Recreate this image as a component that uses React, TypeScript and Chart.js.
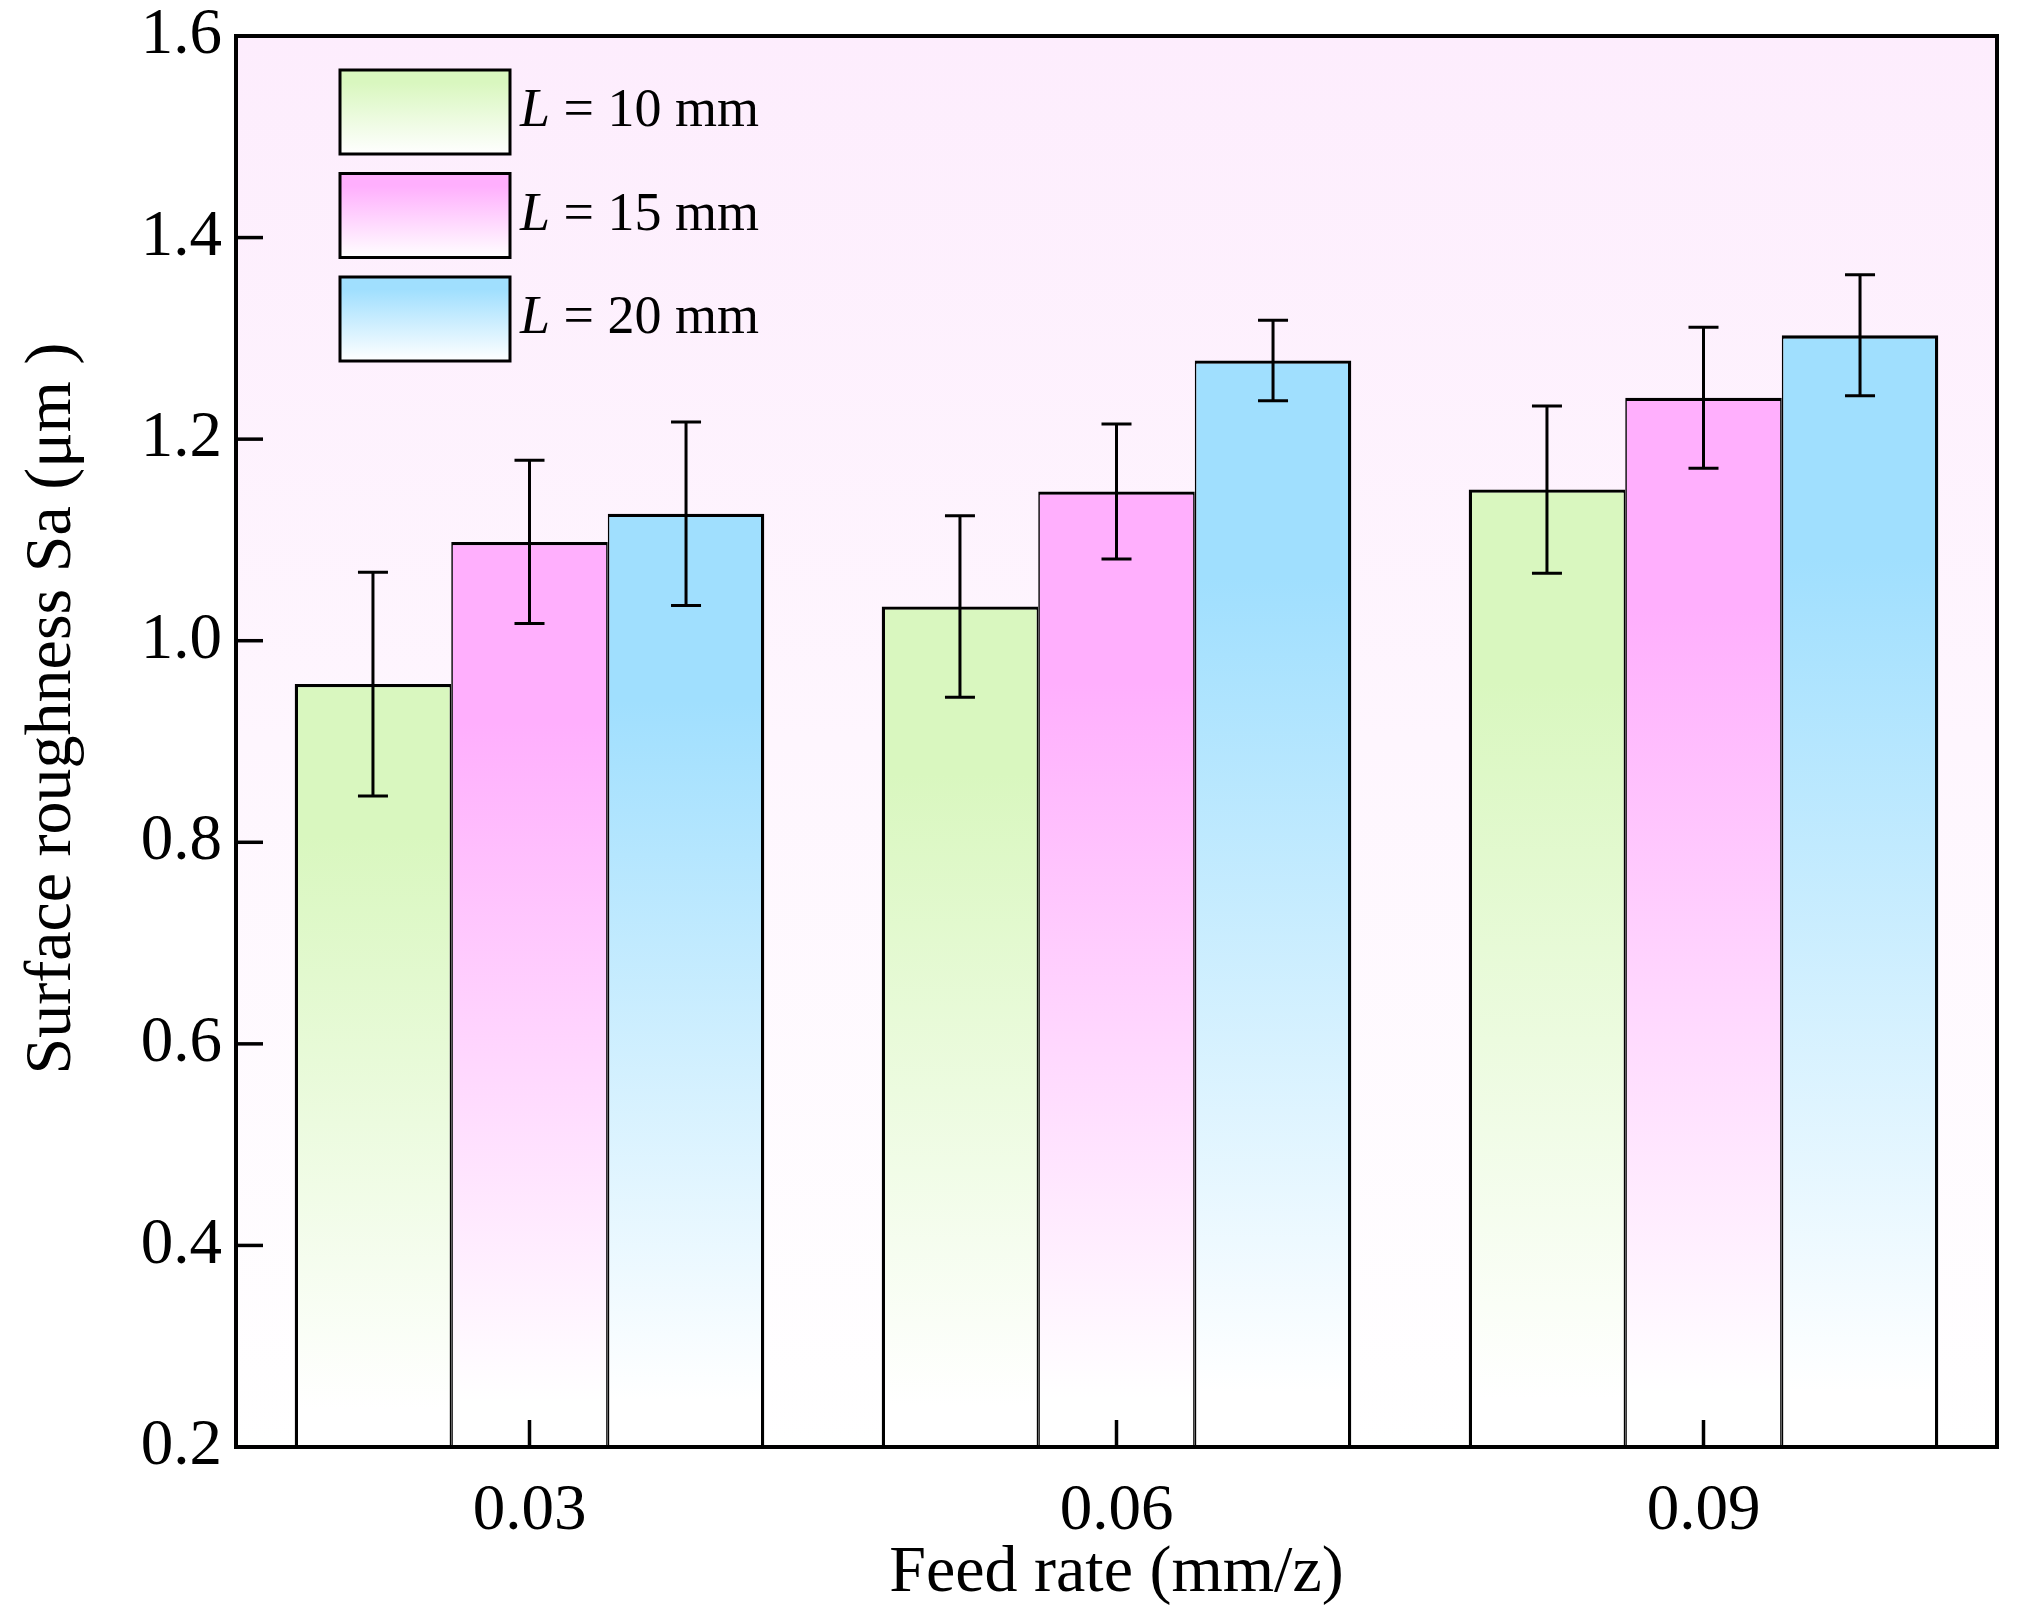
import { useEffect, useRef } from "react";
import { Chart, registerables } from "chart.js";

Chart.register(...registerables);

// feed rates on the x axis
const feedRates = ["0.03", "0.06", "0.09"];
// cutting lengths (legend)
const lengths = ["10", "15", "20"];
// mean Sa per length (µm)
const sa10 = [0.957, 1.034, 1.15];
const sa15 = [1.098, 1.148, 1.241];
const sa20 = [1.126, 1.278, 1.303];
// error bar half-widths
const err10 = [0.111, 0.09, 0.083];
const err15 = [0.081, 0.067, 0.07];
const err20 = [0.091, 0.04, 0.06];

const colors = ["#d9f7bf", "#ffaffd", "#a0dffe"];
const FONT = "'Liberation Serif', 'Times New Roman', serif";

const values = [sa10, sa15, sa20];
const errors = [err10, err15, err20];

const barFill = (color: string) => (ctx: any) => {
  const chart = ctx.chart;
  const area = chart.chartArea;
  if (!area || ctx.type !== "data") return color;
  const top = chart.scales.y.getPixelForValue(ctx.raw);
  const g = chart.ctx.createLinearGradient(0, top, 0, area.bottom);
  g.addColorStop(0, color);
  g.addColorStop(0.2, color);
  g.addColorStop(0.95, "#ffffff");
  return g;
};

const decorPlugin = {
  id: "decor",
  beforeDraw(chart: any) {
    const { ctx, chartArea: a } = chart;
    const g = ctx.createLinearGradient(0, a.top, 0, a.bottom);
    g.addColorStop(0, "#fdedfd");
    g.addColorStop(1, "#ffffff");
    ctx.save();
    ctx.fillStyle = g;
    ctx.fillRect(a.left, a.top, a.right - a.left, a.bottom - a.top);
    ctx.restore();
  },
  afterDatasetsDraw(chart: any) {
    const { ctx } = chart;
    const y = chart.scales.y;
    ctx.save();
    ctx.strokeStyle = "#000";
    ctx.lineWidth = 3;
    values.forEach((vals, i) => {
      const meta = chart.getDatasetMeta(i);
      vals.forEach((v, j) => {
        const x = meta.data[j].x;
        const hi = y.getPixelForValue(v + errors[i][j]);
        const lo = y.getPixelForValue(v - errors[i][j]);
        ctx.beginPath();
        ctx.moveTo(x, hi);
        ctx.lineTo(x, lo);
        ctx.moveTo(x - 15, hi);
        ctx.lineTo(x + 15, hi);
        ctx.moveTo(x - 15, lo);
        ctx.lineTo(x + 15, lo);
        ctx.stroke();
      });
    });
    ctx.restore();
  },
  afterDraw(chart: any) {
    const { ctx, chartArea: a } = chart;
    ctx.save();
    ctx.strokeStyle = "#000";
    // inward ticks
    ctx.lineWidth = 3.5;
    chart.scales.y.ticks.forEach((t: any) => {
      const py = chart.scales.y.getPixelForValue(t.value);
      ctx.beginPath();
      ctx.moveTo(a.left, py);
      ctx.lineTo(a.left + 27, py);
      ctx.stroke();
    });
    feedRates.forEach((_, i) => {
      const px = chart.scales.x.getPixelForValue(i);
      ctx.beginPath();
      ctx.moveTo(px, a.bottom);
      ctx.lineTo(px, a.bottom - 27);
      ctx.stroke();
    });
    // frame
    ctx.lineWidth = 4;
    ctx.strokeRect(a.left, a.top, a.right - a.left, a.bottom - a.top);

    // legend
    const bx = a.left + 104;
    const bw = 170;
    const bh = 84;
    lengths.forEach((len, i) => {
      const by = a.top + 34 + i * 103.5;
      const g = ctx.createLinearGradient(0, by, 0, by + bh);
      g.addColorStop(0, colors[i]);
      g.addColorStop(0.15, colors[i]);
      g.addColorStop(1, "#ffffff");
      ctx.fillStyle = g;
      ctx.fillRect(bx, by, bw, bh);
      ctx.lineWidth = 3;
      ctx.strokeRect(bx, by, bw, bh);
      ctx.fillStyle = "#000";
      ctx.textBaseline = "middle";
      ctx.textAlign = "left";
      const ty = by + bh / 2;
      ctx.font = `italic 54px ${FONT}`;
      ctx.fillText("L", bx + bw + 10, ty);
      const lw = ctx.measureText("L").width;
      ctx.font = `54px ${FONT}`;
      ctx.fillText(` = ${len} mm`, bx + bw + 10 + lw, ty);
    });

    // y axis title
    ctx.translate(53, (a.top + a.bottom) / 2 - 33);
    ctx.rotate(-Math.PI / 2);
    ctx.font = `66px ${FONT}`;
    ctx.textAlign = "center";
    ctx.textBaseline = "middle";
    ctx.fillStyle = "#000";
    ctx.fillText("Surface roughness Sa (\u03bcm )", 0, 0);
    ctx.restore();
  },
};

export default function App() {
  const canvasRef = useRef<HTMLCanvasElement>(null);

  useEffect(() => {
    if (!canvasRef.current) return;
    const chart = new Chart(canvasRef.current, {
      type: "bar",
      data: {
        labels: feedRates,
        datasets: values.map((vals, i) => ({
          label: `L = ${lengths[i]} mm`,
          data: vals,
          backgroundColor: barFill(colors[i]),
          borderColor: "#000",
          borderWidth: {
            top: 3.3,
            bottom: 0,
            left: i === 0 ? 3.3 : 1.65,
            right: i === 2 ? 3.3 : 1.65,
          },
          borderSkipped: false,
          barPercentage: 1,
          categoryPercentage: 0.8,
        })),
      },
      options: {
        animation: false,
        responsive: true,
        maintainAspectRatio: false,
        layout: { padding: { top: 36, right: 25, bottom: 0, left: 0 } },
        plugins: { legend: { display: false }, tooltip: { enabled: false } },
        scales: {
          x: {
            grid: { display: false },
            border: { display: false },
            ticks: { font: { family: FONT, size: 65 }, color: "#000", padding: 18 },
            title: {
              display: true,
              text: "Feed rate (mm/z)",
              font: { family: FONT, size: 66 },
              color: "#000",
              padding: { top: 0, bottom: 7 },
            },
            afterFit: (s: any) => {
              s.height = 173;
            },
          },
          y: {
            min: 0.2,
            max: 1.6,
            grid: { display: false },
            border: { display: false },
            ticks: {
              stepSize: 0.2,
              callback: (v: any) => Number(v).toFixed(1),
              font: { family: FONT, size: 65, lineHeight: 1.1 },
              color: "#000",
              padding: 6,
            },
            afterFit: (s: any) => {
              s.width = 236;
              s.paddingTop = 0;
              s.paddingBottom = 0;
            },
          },
        },
      },
      plugins: [decorPlugin],
    } as any);
    return () => chart.destroy();
  }, []);

  return (
    <div style={{ position: "absolute", left: 0, top: 0, width: 2022, height: 1620, background: "#fff" }}>
      <canvas ref={canvasRef} />
    </div>
  );
}
